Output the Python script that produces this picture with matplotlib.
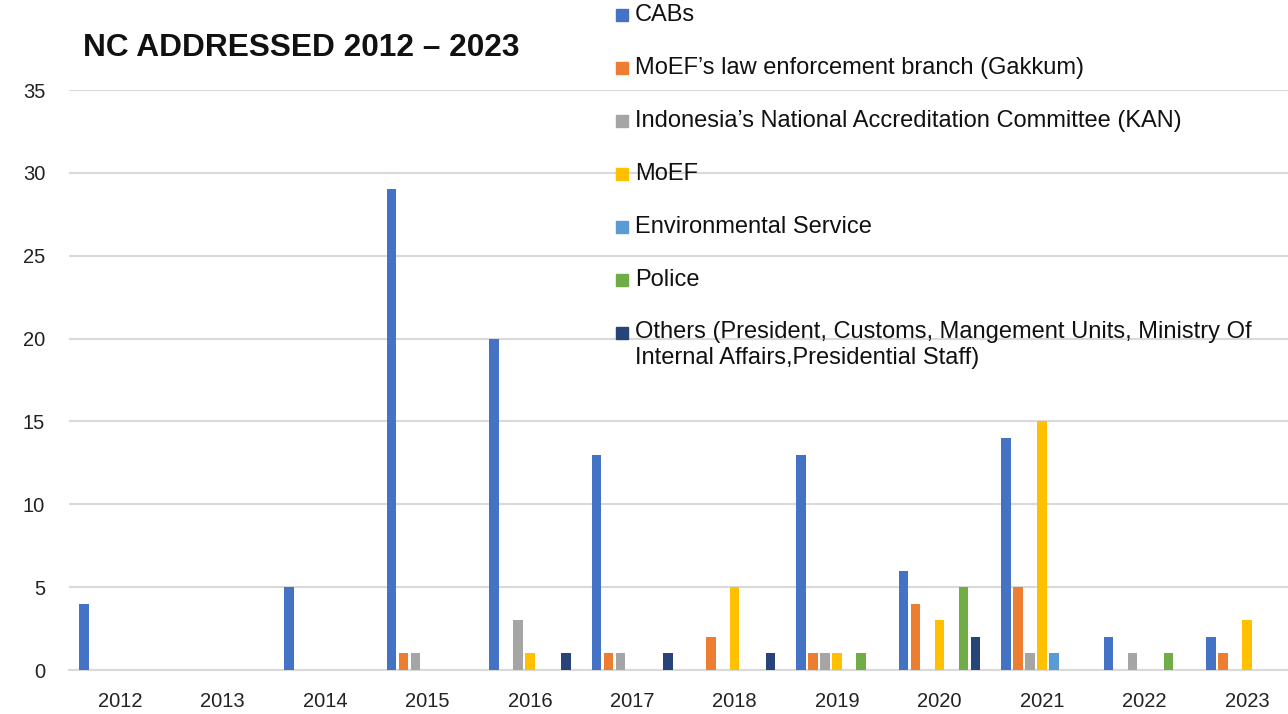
import matplotlib
matplotlib.use("Agg")
import matplotlib.pyplot as plt
import numpy as np
from matplotlib.patches import Rectangle

years = ["2012", "2013", "2014", "2015", "2016", "2017", "2018", "2019", "2020", "2021", "2022", "2023"]
series_names = [
    "CABs",
    "MoEF\u2019s law enforcement branch (Gakkum)",
    "Indonesia\u2019s National Accreditation Committee (KAN)",
    "MoEF",
    "Environmental Service",
    "Police",
    "Others (President, Customs, Mangement Units, Ministry Of\nInternal Affairs,Presidential Staff)",
]
cabs = [4, 0, 5, 29, 20, 13, 0, 13, 6, 14, 2, 2]
gakkum = [0, 0, 0, 1, 0, 1, 2, 1, 4, 5, 0, 1]
kan = [0, 0, 0, 1, 3, 1, 0, 1, 0, 1, 1, 0]
moef = [0, 0, 0, 0, 1, 0, 5, 1, 3, 15, 0, 3]
env_service = [0, 0, 0, 0, 0, 0, 0, 0, 0, 1, 0, 0]
police = [0, 0, 0, 0, 0, 0, 0, 1, 5, 0, 1, 0]
others = [0, 0, 0, 0, 1, 1, 1, 0, 2, 0, 0, 0]
colors = ["#4472C4", "#ED7D31", "#A5A5A5", "#FFC000", "#5B9BD5", "#70AD47", "#264478"]

all_series = [cabs, gakkum, kan, moef, env_service, police, others]

plt.rcParams['font.family'] = ['Liberation Sans', 'DejaVu Sans']

W, H = 1288, 714
fig = plt.figure(figsize=(W / 100, H / 100), dpi=100)
ax_left = 68.8
ax_w = 12 * 102.45
ax = fig.add_axes([ax_left / W, 44 / H, ax_w / W, (670 - 90) / H])

x = np.arange(len(years))
pitch = 0.117
width = 0.093
for i, (vals, c) in enumerate(zip(all_series, colors)):
    ax.bar(x + (i - 3) * pitch, vals, width=width, color=c, zorder=3)

ax.set_xlim(-0.5, len(years) - 0.5)
ax.set_ylim(0, 35)
ax.set_yticks(np.arange(0, 36, 5))
ax.set_xticks(x)
ax.set_xticklabels(years)
ax.tick_params(axis='both', length=0, labelsize=14.5, colors='#222222')
ax.tick_params(axis='y', pad=17)
ax.tick_params(axis='x', pad=16)
ax.grid(axis='y', color='#d9d9d9', linewidth=1.5, zorder=0)
for s in ['top', 'right', 'left']:
    ax.spines[s].set_visible(False)
ax.spines['bottom'].set_color('#d9d9d9')
ax.spines['bottom'].set_linewidth(1.5)
ax.set_facecolor('none')

fig.text(83 / W, 1 - 48 / H, "NC ADDRESSED 2012 \u2013 2023", fontsize=22.8, fontweight='bold',
         va='center', ha='left', color='#111111')

# legend (manual, to match layout)
y_centres = [15, 68, 121, 174, 227, 280, 333]
for name, c, yc in zip(series_names, colors, y_centres):
    fig.patches.append(Rectangle((616 / W, 1 - (yc + 6) / H), 12 / W, 12 / H,
                                 transform=fig.transFigure, color=c, figure=fig))
    if '\n' in name:
        fig.text(635 / W, 1 - (yc - 12) / H, name, fontsize=17, va='top', ha='left',
                 color='#111111', linespacing=1.22)
    else:
        fig.text(635 / W, 1 - yc / H, name, fontsize=17, va='center', ha='left',
                 color='#111111')

fig.savefig("out.png", dpi=100, facecolor='white')
